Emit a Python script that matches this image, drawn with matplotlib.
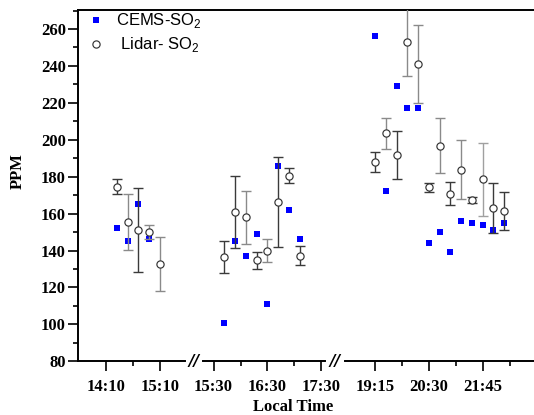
import matplotlib
matplotlib.use("Agg")
import matplotlib.pyplot as plt
from matplotlib.ticker import MultipleLocator
from matplotlib.lines import Line2D
from matplotlib.font_manager import FontProperties

plt.rcParams['mathtext.fontset'] = 'custom'
plt.rcParams['mathtext.rm'] = 'Liberation Sans'

# Time-slot positions (labelled ticks every 2 units, samples every 0.4)
cems_x = [0.4, 0.8, 1.2, 1.6,
          4.4, 4.8, 5.2, 5.6, 6.0, 6.4, 6.8, 7.2,
          10.0, 10.4, 10.8, 11.2, 11.6, 12.0, 12.4, 12.8, 13.2, 13.6, 14.0, 14.4, 14.8]
cems_so2 = [152, 145, 165, 146,
            101, 145, 137, 149, 111, 186, 162, 146,
            256, 172, 229, 217, 217, 144, 150, 139, 156, 155, 154, 151, 155]

lidar_x = [0.4, 0.8, 1.2, 1.6, 2.0,
           4.4, 4.8, 5.2, 5.6, 6.0, 6.4, 6.8, 7.2,
           10.0, 10.4, 10.8, 11.2, 11.6, 12.0, 12.4, 12.8, 13.2, 13.6, 14.0, 14.4, 14.8]
lidar_so2 = [174.5, 155.5, 151.0, 150.0, 132.6,
             136.6, 160.6, 158.0, 134.6, 139.9, 166.5, 180.5, 137.2,
             188.0, 203.5, 191.5, 253.0, 241.0, 174.2, 196.8, 170.8, 183.8, 167.5, 178.5, 163.2, 161.3]
lidar_err = [4.0, 15.0, 22.7, 4.0, 14.6,
             8.8, 19.5, 14.5, 4.4, 6.3, 24.4, 4.0, 5.3,
             5.6, 8.4, 13.0, 18.6, 21.0, 2.6, 14.9, 6.1, 16.0, 1.5, 19.6, 13.5, 10.3]

tick_pos = [0, 2, 4, 6, 8, 10, 12, 14]
tick_labels = ["14:10", "15:10", "15:30", "16:30", "17:30", "19:15", "20:30", "21:45"]
minor_pos = [1, 5, 7, 11, 13, 15]

# shade of each lidar error bar
dark, light = '#3a3a3a', '#8a8a8a'
bar_shades = [dark, light, dark, light, light,
              dark, dark, light, dark, light, dark, dark, dark,
              dark, light, dark, light, light, dark, light, dark, light, dark, '#a0a0a0', dark, dark]

serif_bold = dict(family='Liberation Serif', weight='bold', size=12)

fig = plt.figure(figsize=(5.34, 4.15), dpi=100)
ax = fig.add_axes([0.1466, 0.1294, 0.8534, 0.8466])

x_left, x_right = -1.03, 15.91
ax.set_xlim(x_left, x_right)
ax.set_ylim(80, 270.3)

# CEMS squares
ax.plot(cems_x, cems_so2, linestyle='none', marker='s', markersize=5.0,
        color='#0000ff', markeredgewidth=0, zorder=2, clip_on=False)

# Lidar error bars, then open circles on top
for xi, yi, ei, c in zip(lidar_x, lidar_so2, lidar_err, bar_shades):
    ax.errorbar([xi], [yi], yerr=[ei], fmt='none', ecolor=c, elinewidth=1.0,
                capsize=3.8, capthick=1.0, zorder=3)
ax.plot(lidar_x, lidar_so2, linestyle='none', marker='o', markersize=5.2,
        markerfacecolor='white', markeredgecolor='#333333', markeredgewidth=0.85, zorder=4)

# axes frame: broken bottom axis
for s in ('right', 'bottom'):
    ax.spines[s].set_visible(False)
for s in ('left', 'top'):
    ax.spines[s].set_linewidth(1.4)
xt = ax.get_xaxis_transform()
for a, b in [(x_left, 2.94), (3.6, 8.14), (8.88, x_right)]:
    ax.plot([a, b], [0, 0], transform=xt, color='black', lw=1.4, clip_on=False, zorder=5)
for xb in (3.27, 8.51):
    ax.text(xb, 0, '//', transform=xt, ha='center', va='center',
            fontsize=11, fontweight='bold', family='DejaVu Sans', style='italic')

ax.set_xticks(tick_pos)
ax.set_xticklabels(tick_labels, fontdict=serif_bold)
ax.set_xticks(minor_pos, minor=True)
ax.yaxis.set_major_locator(MultipleLocator(20))
ax.yaxis.set_minor_locator(MultipleLocator(10))
for lab in ax.get_yticklabels():
    lab.set_fontproperties(FontProperties(**serif_bold))
ax.tick_params(which='major', direction='out', length=7, width=1.2, pad=6)
ax.tick_params(which='minor', direction='out', length=3.5, width=1.2)
ax.tick_params(axis='y', which='major', pad=2)
ax.tick_params(top=False, right=False)

fig.text(18 / 534, 1 - 171 / 415, 'PPM', rotation=90, ha='center', va='center', **serif_bold)
fig.text(293 / 534, 1 - 407 / 415, 'Local Time', ha='center', va='center', **serif_bold)

handles = [
    Line2D([], [], linestyle='none', marker='s', markersize=5.0, color='#0000ff', markeredgewidth=0),
    Line2D([], [], linestyle='none', marker='o', markersize=5.2, markerfacecolor='white',
           markeredgecolor='#333333', markeredgewidth=0.85),
]
ax.legend(handles, [r'CEMS-SO$_\mathregular{2}$', r' Lidar- SO$_\mathregular{2}$'],
          loc='upper left', frameon=False, prop=dict(family='Liberation Sans', size=12),
          handlelength=1.0, handletextpad=0.75, labelspacing=0.3,
          borderaxespad=0.0, bbox_to_anchor=(0.005, 1.015))

fig.savefig('out.png', dpi=100)
